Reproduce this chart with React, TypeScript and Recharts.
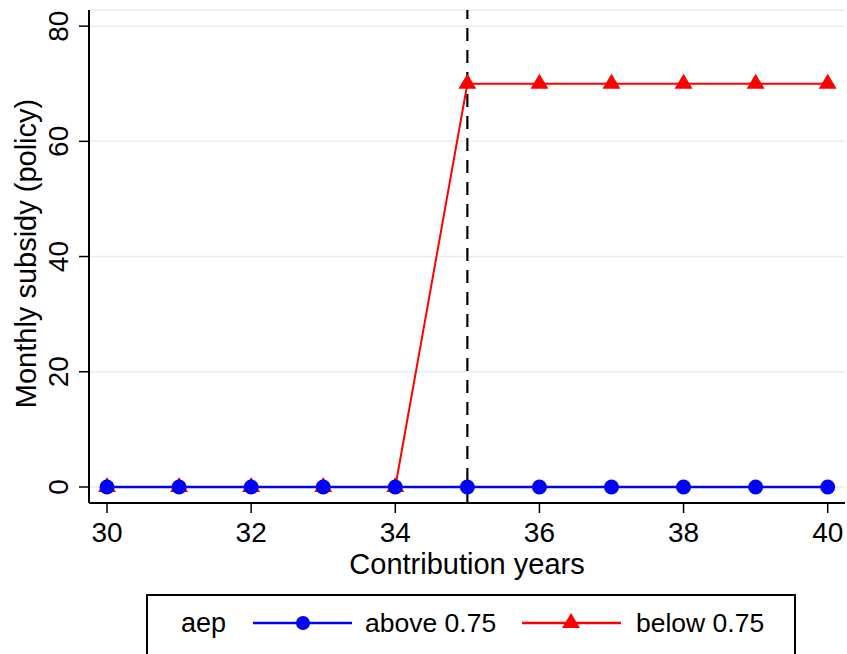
import React from "react"
import {
  CartesianGrid,
  Line,
  LineChart,
  ReferenceLine,
  XAxis,
  YAxis,
} from "recharts"

const years = [30, 31, 32, 33, 34, 35, 36, 37, 38, 39, 40]
const aboveValues = [0, 0, 0, 0, 0, 0, 0, 0, 0, 0, 0]
const belowValues = [0, 0, 0, 0, 0, 70, 70, 70, 70, 70, 70]
const xTicks = [30, 32, 34, 36, 38, 40]
const yTicks = [0, 20, 40, 60, 80]
const cutoffYear = 35

const legendTitle = "aep"
const aboveName = "above 0.75"
const belowName = "below 0.75"
const xTitle = "Contribution years"
const yTitle = "Monthly subsidy (policy)"

const FONT = '"Liberation Sans", Arial, Helvetica, sans-serif'
const BLUE = "#0000ff"
const RED = "#ff0000"

const data = years.map((year, i) => ({
  year,
  above: aboveValues[i],
  below: belowValues[i],
}))

function triangle(cx: number, cy: number) {
  return `M${cx},${cy - 10} L${cx - 9},${cy + 5} L${cx + 9},${cy + 5} Z`
}

const TriangleDot = (props: any) => {
  const { cx, cy, index } = props
  if (cx == null || cy == null) return <g key={`t-${index}`} />
  return <path key={`t-${index}`} d={triangle(cx, cy)} fill={RED} stroke="none" />
}

const XTick = (props: any) => {
  const { x, y, payload } = props
  return (
    <text x={x} y={y + 27} textAnchor="middle" fill="#000" fontSize={28} fontFamily={FONT}>
      {payload.value}
    </text>
  )
}

const YTick = (props: any) => {
  const { x, y, payload } = props
  const bx = x - 9
  return (
    <text
      x={bx}
      y={y}
      transform={`rotate(-90 ${bx} ${y})`}
      textAnchor="middle"
      fill="#000"
      fontSize={28}
      fontFamily={FONT}
    >
      {payload.value}
    </text>
  )
}

const XTitle = (props: any) => {
  const vb = props.viewBox
  return (
    <text
      x={vb.x + vb.width / 2}
      y={vb.y + 71}
      textAnchor="middle"
      fill="#000"
      fontSize={29}
      fontFamily={FONT}
    >
      {xTitle}
    </text>
  )
}

const YTitle = (props: any) => {
  const vb = props.viewBox
  const bx = vb.x + 36
  const cy = vb.y + vb.height / 2 - 3
  return (
    <text
      x={bx}
      y={cy}
      transform={`rotate(-90 ${bx} ${cy})`}
      textAnchor="middle"
      fill="#000"
      fontSize={29}
      fontFamily={FONT}
    >
      {yTitle}
    </text>
  )
}

function LegendBox() {
  return (
    <svg
      width={847}
      height={654}
      style={{ position: "absolute", left: 0, top: 0, pointerEvents: "none" }}
    >
      <rect x={147} y={595} width={648} height={70} fill="#fff" stroke="#000" strokeWidth={2} />
      <text x={181} y={632} fontSize={27} fontFamily={FONT} fill="#000">
        {legendTitle}
      </text>
      <line x1={253} y1={623} x2={352} y2={623} stroke={BLUE} strokeWidth={2.5} />
      <circle cx={303} cy={623} r={7} fill={BLUE} />
      <text x={365} y={632} fontSize={26.5} fontFamily={FONT} fill="#000">
        {aboveName}
      </text>
      <line x1={522} y1={623} x2={621} y2={623} stroke={RED} strokeWidth={2.5} />
      <path d={triangle(571, 623)} fill={RED} />
      <text x={636} y={632} fontSize={26.5} fontFamily={FONT} fill="#000">
        {belowName}
      </text>
    </svg>
  )
}

export default function App() {
  return (
    <div
      style={{
        position: "absolute",
        left: 0,
        top: 0,
        width: 847,
        height: 654,
        background: "#fff",
        fontFamily: FONT,
        overflow: "hidden",
      }}
    >
      <LineChart
        width={847}
        height={654}
        data={data}
        margin={{ top: 10, right: 2, left: 0, bottom: 61 }}
      >
        <CartesianGrid vertical={false} stroke="#e6eef0" strokeWidth={1.5} />
        <XAxis
          dataKey="year"
          type="number"
          domain={[29.75, 40.24]}
          ticks={xTicks}
          allowDataOverflow
          height={90}
          tickSize={10}
          axisLine={{ stroke: "#000", strokeWidth: 2 }}
          tickLine={{ stroke: "#000", strokeWidth: 1.5 }}
          tick={<XTick />}
          label={<XTitle />}
        />
        <YAxis
          type="number"
          domain={[-2.78, 82.8]}
          ticks={yTicks}
          allowDataOverflow
          width={89}
          tickSize={10}
          axisLine={{ stroke: "#000", strokeWidth: 2 }}
          tickLine={{ stroke: "#000", strokeWidth: 1.5 }}
          tick={<YTick />}
          label={<YTitle />}
        />
        <ReferenceLine x={cutoffYear} stroke="#000" strokeWidth={2.2} strokeDasharray="13 9" />
        <Line
          type="linear"
          dataKey="below"
          stroke={RED}
          strokeWidth={2}
          dot={TriangleDot}
          activeDot={false}
          isAnimationActive={false}
        />
        <Line
          type="linear"
          dataKey="above"
          stroke={BLUE}
          strokeWidth={2.5}
          dot={{ r: 7.5, fill: BLUE, stroke: "none" }}
          activeDot={false}
          isAnimationActive={false}
        />
      </LineChart>
      <LegendBox />
    </div>
  )
}
